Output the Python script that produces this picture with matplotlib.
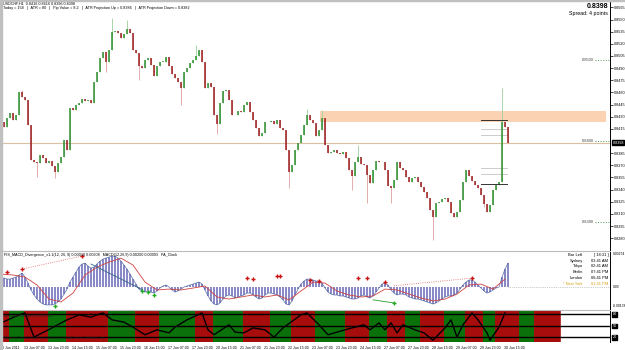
import numpy as np
import matplotlib
matplotlib.use("Agg")
import matplotlib.pyplot as plt
from matplotlib.patches import Rectangle

plt.rcParams['font.family'] = ['Liberation Sans', 'DejaVu Sans']

# ---------------- data (one value per 2 hours) ----------------
first_open = 0.8420
closes = [
    0.8423, 0.8417, 0.8428, 0.8435, 0.8426, 0.8432, 0.8461, 0.8454, 0.8451, 0.8420,
    0.8377, 0.8374, 0.8373, 0.8383, 0.8379, 0.8373, 0.8375, 0.8369, 0.8362, 0.8373,
    0.8380, 0.8401, 0.8389, 0.8441, 0.8438, 0.8444, 0.8447, 0.8452, 0.8449, 0.8451,
    0.8447, 0.8473, 0.8485, 0.8503, 0.8510, 0.8498, 0.8512, 0.8535, 0.8536, 0.8533,
    0.8527, 0.8532, 0.8538, 0.8533, 0.8512, 0.8509, 0.8493, 0.8490, 0.8500, 0.8503,
    0.8494, 0.8480, 0.8493, 0.8498, 0.8498, 0.8504, 0.8493, 0.8483, 0.8478, 0.8473,
    0.8465, 0.8485, 0.8490, 0.8496, 0.8500, 0.8505, 0.8512, 0.8498, 0.8465, 0.8472,
    0.8467, 0.8432, 0.8421, 0.8447, 0.8462, 0.8463, 0.8451, 0.8432, 0.8432, 0.8437,
    0.8436, 0.8444, 0.8448, 0.8436, 0.8426, 0.8416, 0.8406, 0.8410, 0.8423, 0.8423,
    0.8425, 0.8421, 0.8426, 0.8416, 0.8414, 0.8389, 0.8362, 0.8370, 0.8389, 0.8398,
    0.8407, 0.8420, 0.8432, 0.8426, 0.8422, 0.8406, 0.8414, 0.8428, 0.8395, 0.8385,
    0.8386, 0.8389, 0.8385, 0.8384, 0.8386, 0.8379, 0.8364, 0.8357, 0.8374, 0.8380,
    0.8372, 0.8370, 0.8358, 0.8348, 0.8364, 0.8375, 0.8374, 0.8374, 0.8364, 0.8344,
    0.8342, 0.8352, 0.8374, 0.8367, 0.8364, 0.8356, 0.8349, 0.8354, 0.8356, 0.8349,
    0.8343, 0.8337, 0.8330, 0.8315, 0.8306, 0.8323, 0.8325, 0.8328, 0.8330, 0.8325,
    0.8311, 0.8306, 0.8312, 0.8327, 0.8349, 0.8364, 0.8357, 0.8351, 0.8346, 0.8342,
    0.8333, 0.8322, 0.8312, 0.8321, 0.8340, 0.8346, 0.8349, 0.8423, 0.8417, 0.8398,
]
wick_high = {7: 0.8463, 37: 0.8552, 42: 0.8549, 65: 0.8519, 107: 0.8438,
             119: 0.8395, 167: 0.8465, 102: 0.8440}
wick_low = {0: 0.8416, 12: 0.8356, 18: 0.8354, 35: 0.8485, 46: 0.8475,
            60: 0.8444, 72: 0.8409, 96: 0.8342, 117: 0.8340, 122: 0.8323,
            130: 0.8323, 144: 0.8278, 161: 0.8318}

price_ticks = [0.8565, 0.8550, 0.8535, 0.8520, 0.8505, 0.8490, 0.8475, 0.8460,
               0.8445, 0.8430, 0.8415, 0.8385, 0.8370, 0.8355, 0.8340, 0.8325,
               0.8310, 0.8295, 0.8280]
round_levels = [0.8500, 0.8400, 0.8300]
bid = 0.8398
zone = (0.8423, 0.8437)
atr_lines = [0.8426, 0.8347]
atr_sub_lines = [0.8415, 0.8407, 0.8367, 0.8359]

# MACD histogram and signal (units of 1e-5)
macd_hist = [
    70, 70, 62, 62, 70, 78, 94, 109, 78, 31,
    -23, -62, -94, -117, -133, -140, -140, -140, -133, -117,
    -94, -55, -16, 39, 78, 117, 156, 179, 187, 164,
    148, 156, 179, 203, 218, 226, 234, 242, 242, 226,
    203, 172, 140, 101, 62, 23, -16, -31, -39, -31,
    -39, -47, -31, -8, 8, 16, 0, -23, -39, -31,
    -16, 0, 8, 16, 23, 31, 39, 23, -23, -70,
    -109, -133, -140, -125, -94, -70, -62, -70, -86, -78,
    -70, -62, -47, -47, -62, -78, -94, -86, -62, -47,
    -47, -55, -62, -78, -101, -133, -140, -109, -62, -16,
    23, 47, 62, 62, 55, 47, 47, 31, -8, -39,
    -55, -62, -62, -70, -70, -78, -86, -94, -94, -86,
    -70, -62, -78, -86, -70, -39, -8, 23, 31, 16,
    -23, -47, -62, -55, -55, -62, -78, -86, -94, -94,
    -101, -109, -117, -125, -133, -125, -109, -94, -78, -70,
    -70, -62, -47, -16, 16, 39, 55, 55, 39, 16,
    -8, -31, -47, -39, -23, -8, 0, 78, 140, 187,
]
signal_step = 4
macd_signal = [101, 94, 78, 16, -94, -117, -47, 94, 156, 195,
               226, 172, 39, -23, -16, -23, -8, 8, -78, -94,
               -78, -62, -78, -62, -101, -31, 39, 31, -31, -62,
               -78, -70, -16, -23, -55, -86, -109, -94, -55, 16,
               23, -16, 62]
sell_marks = [(2, 115), (7, 140), (27, 243), (82, 70), (84, 62), (92, 86), (93, 86),
              (103, 55), (106, 47), (119, 70), (122, 70), (128, 39), (157, 70)]
buy_marks = [(18, -150), (47, -31), (49, -39), (51, -62), (131, -125)]

# bottom oscillator
osc_bars = [0, 6, 8, 11, 17, 22, 26, 30, 32, 34, 37, 41, 44, 48, 52, 56, 58, 62,
            67, 69, 71, 76, 78, 81, 84, 88, 91, 94, 100, 102, 106, 109, 112, 117,
            121, 123, 126, 128, 130, 132, 134, 138, 141, 144, 148, 150, 152, 154,
            157, 159, 162, 163, 166, 168]
osc_vals = [58, 79, 84, 21, 45, 66, 79, 73, 79, 84, 66, 60, 47, 27, 40, 32, 47, 66,
            84, 40, 27, 53, 34, 32, 45, 40, 21, 45, 79, 84, 53, 27, 34, 45,
            53, 40, 58, 40, 58, 32, 53, 40, 32, 13, 45, 66, 21, 53,
            84, 66, 32, 13, 47, 84]
band_runs = [('r', 3), ('g', 5), ('r', 8), ('g', 6), ('r', 14), ('g', 9), ('r', 8),
             ('g', 12), ('r', 6), ('g', 10), ('r', 9), ('g', 7), ('r', 8), ('g', 10),
             ('r', 8), ('g', 6), ('r', 6), ('g', 5), ('r', 8), ('g', 7), ('r', 6),
             ('g', 4), ('r', 8), ('g', 5), ('r', 9)]
band_colors = {'r': '#a80d0d', 'g': '#0b720b'}

date_labels = ['10 Jun 2011', '13 Jun 07:00', '13 Jun 23:00', '14 Jun 15:00', '15 Jun 07:00',
               '15 Jun 23:00', '16 Jun 15:00', '17 Jun 07:00', '17 Jun 23:00', '20 Jun 15:00',
               '21 Jun 07:00', '21 Jun 23:00', '22 Jun 15:00', '23 Jun 07:00', '23 Jun 23:00',
               '24 Jun 15:00', '27 Jun 07:00', '27 Jun 23:00', '28 Jun 15:00', '29 Jun 07:00',
               '29 Jun 23:00', '30 Jun 15:00']
clock_rows = [('Bar Left', '[ 18:31 ]'), ('Sydney', '03:41 AM'), ('Tokyo', '02:41 AM'),
              ('Berlin', '07:41 PM'), ('London', '06:41 PM'), ('* New York', '01:41 PM')]

# ---------------- layout helpers ----------------
W, H = 625, 350
def box(x0, y0, x1, y1):
    return [x0 / W, 1 - y1 / H, (x1 - x0) / W, (y1 - y0) / H]

XL = (1 / 3, 203.0)   # bar index range across the plotting width
fs = 2.7              # tiny terminal font

fig = plt.figure(figsize=(6.25, 3.5), dpi=100, facecolor='white')

def clean(a):
    for s in ['left', 'top', 'bottom']:
        a.spines[s].set_visible(False)
    a.spines['right'].set_linewidth(0.7)
    a.set_xlim(*XL)
    a.set_xticks([])
    a.yaxis.tick_right()
    a.tick_params(axis='y', length=2, width=0.5, labelsize=fs, pad=1)

# ---------------- main price panel ----------------
ax = fig.add_axes(box(2, 1, 610, 250))
clean(ax)
ax.set_ylim(0.84 - 109 / 8100, 0.84 + 140 / 8100)
ax.set_yticks(price_ticks)
ax.set_yticklabels(['%.4f' % t for t in price_ticks])

opens = [first_open] + closes[:-1]
for i, (o, c) in enumerate(zip(opens, closes)):
    up = c >= o
    top, bot = max(o, c), min(o, c)
    hi = wick_high.get(i, top)
    lo = wick_low.get(i, bot)
    ax.vlines(i, lo, hi, color='#9fcf9f' if up else '#e0a0a0', lw=0.6, zorder=3)
    if top - bot < 0.00004:
        top = bot + 0.00004
    ax.vlines(i, bot, top, color='#2f8f2f' if up else '#9a1c1c', lw=1.1, zorder=4)

ax.add_patch(Rectangle((106.3, zone[0]), 95.4, zone[1] - zone[0],
                       color='#fbd3b2', lw=0, zorder=1))
ax.axhline(bid, color='#d8c0a0', lw=0.8, zorder=2)
for lv in round_levels:
    ax.plot([198, 203], [lv, lv], ls=':', color='#4c9a4c', lw=0.7)
    ax.text(197.5, lv, '%.4f' % lv, fontsize=fs + 0.2, ha='right', va='center', color='#444444')
for lv in atr_lines:
    ax.plot([160, 168.5], [lv, lv], color='#333333', lw=0.7, zorder=5)
for lv in atr_sub_lines:
    ax.plot([160, 168.5], [lv, lv], color='#cccccc', lw=0.7, zorder=2)

ax.text(0.001, 0.996, 'USDCHF,H1  0.8416 0.8416 0.8396 0.8398', transform=ax.transAxes,
        fontsize=fs, va='top')
ax.text(0.001, 0.981, 'Today = 158   |   ATR = 80   |   Pip Value = 8.2   |   '
        'ATR Projection Up = 0.8386   |   ATR Projection Down = 0.8382',
        transform=ax.transAxes, fontsize=fs, va='top')
ax.text(0.997, 0.99, '%.4f' % bid, transform=ax.transAxes, fontsize=5,
        fontweight='bold', ha='right', va='top')
ax.text(0.997, 0.96, 'Spread: 4 points', transform=ax.transAxes, fontsize=3.8,
        ha='right', va='top')
ax.text(1.004, bid, '%.4f' % bid, transform=ax.get_yaxis_transform(), fontsize=fs,
        color='white', va='center', ha='left',
        bbox=dict(boxstyle='square,pad=0.12', fc='black', ec='black'))

# ---------------- MACD panel ----------------
mx = fig.add_axes(box(2, 251, 610, 309))
clean(mx)
mx.set_ylim(-0.00172, 0.00282)
mx.set_yticks([])
hist = np.array(macd_hist) * 1e-5
idx = np.arange(len(hist))
mx.bar(idx, hist, width=0.55, color='#8a8ac8', lw=0)
mx.plot(idx, hist, color='#5a6fa8', lw=0.5)
sig_x = np.arange(len(macd_signal)) * signal_step
mx.plot(sig_x, np.array(macd_signal) * 1e-5, color='#d04040', lw=0.6)
mx.plot([7, 27], [140e-5, 243e-5], ls=':', color='#e06060', lw=0.6)
mx.plot([30, 47], [180e-5, -20e-5], color='#336688', lw=0.6)
mx.plot([124, 131], [-100e-5, -125e-5], color='#2c9a2c', lw=0.6)
mx.plot([131, 157], [10e-5, 70e-5], ls=':', color='#e06060', lw=0.6)
mx.plot([169, 203], [0, 0], ls=':', color='#999999', lw=0.5)
for b, v in sell_marks:
    mx.plot(b, v * 1e-5, marker='+', color='#cc1111', ms=3, mew=1.0)
for b, v in buy_marks:
    mx.plot(b, v * 1e-5, marker='+', color='#22aa22', ms=3, mew=1.0)
mx.text(0.003, 0.96, 'FIS_MACD_Divergence_v1.1(12, 26, 9) 0.00010 0.00908   '
        'MACD(12,26,9) 0.00200 0.00093   PA_Clock', transform=mx.transAxes,
        fontsize=fs, va='top')
for k, (name, val) in enumerate(clock_rows):
    yy = 0.97 - k * 0.1
    col = '#d4a017' if name.startswith('*') else 'black'
    mx.text(0.955, yy, name, transform=mx.transAxes, fontsize=fs + 0.2, ha='right',
            va='top', color=col)
    mx.text(0.997, yy, val, transform=mx.transAxes, fontsize=fs + 0.2, ha='right',
            va='top', color=col)
for v, t in [(0.00262, '0.00274'), (0.0, '0.00'), (-0.00148, '-0.00178')]:
    mx.text(1.004, v, t, transform=mx.get_yaxis_transform(), fontsize=fs - 0.3,
            va='center')

# ---------------- bottom oscillator panel ----------------
bx = fig.add_axes(box(2, 310, 610, 342))
clean(bx)
bx.set_ylim(8.2, 91.7)
bx.set_yticks([])
pos = 0
for c, length in band_runs:
    bx.add_patch(Rectangle((pos - 0.5, 8.2), length, 83.5, color=band_colors[c], lw=0))
    pos += length
bx.axvline(pos - 0.3, color='white', lw=1.0)
for lv in [80, 50, 20]:
    bx.axhline(lv, color='black', lw=1.0)
    bx.text(1.004, lv, str(lv), transform=bx.get_yaxis_transform(), fontsize=fs,
            color='white', va='center',
            bbox=dict(boxstyle='square,pad=0.1', fc='black', ec='black'))
bx.plot(osc_bars, osc_vals, color='black', lw=1.0)
bx.text(0.003, 0.86, 'Stochastic Candles (5,3,3) 2011', transform=bx.transAxes,
        fontsize=fs - 0.3, va='top', color='#222222')
bx.text(0.003, 0.06, 'Made by TradeCreator  (c) 2003-2011  TradeCreator Software Corp.',
        transform=bx.transAxes, fontsize=fs - 0.3, va='bottom', color='#222222')

for k, lab in enumerate(date_labels):
    bx.text(k * 8 - 0.3, -0.12, lab, transform=bx.get_xaxis_transform(), fontsize=2.55,
            ha='left', va='top')

# window borders
fig.add_artist(Rectangle((0, 0), 2 / W, 1, transform=fig.transFigure, color='#c0c0c0'))
fig.add_artist(Rectangle((0, 1 - 1 / H), 1, 1 / H, transform=fig.transFigure, color='#c0c0c0'))
for ypx in [250.5, 309.5]:
    fig.add_artist(plt.Line2D([2 / W, 610 / W], [1 - ypx / H] * 2, color='#bbbbbb', lw=0.8))

fig.savefig('out.png', dpi=100, facecolor='white')
